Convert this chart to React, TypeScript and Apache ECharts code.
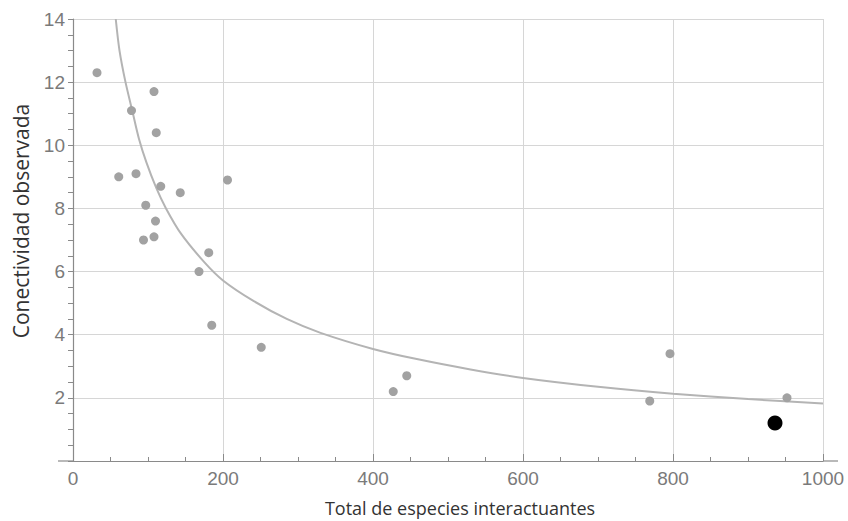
import React, { useEffect, useRef } from "react";
import * as echarts from "echarts";

const grayPoints: [number, number][] = [
  [32, 12.3], [108, 11.7], [78, 11.1], [111, 10.4], [61, 9.0], [84, 9.1],
  [117, 8.7], [143, 8.5], [206, 8.9], [97, 8.1], [110, 7.6], [94, 7.0],
  [108, 7.1], [181, 6.6], [168, 6.0], [185, 4.3], [251, 3.6], [427, 2.2],
  [445, 2.7], [769, 1.9], [796, 3.4], [952, 2.0],
];
const highlightPoint: [number, number][] = [[936, 1.2]];

const curveX = [57, 62, 70, 79, 88, 98, 111, 124, 144, 175, 200, 240, 285, 330, 400, 460, 530, 600, 700, 800, 900, 1000];
const curveY = [14.0, 13.0, 12.0, 11.1, 10.2, 9.45, 8.65, 8.0, 7.2, 6.3, 5.72, 5.08, 4.5, 4.06, 3.55, 3.22, 2.9, 2.63, 2.35, 2.13, 1.96, 1.82];

const xTitle = "Total de especies interactuantes";
const yTitle = "Conectividad observada";

export default function App() {
  const ref = useRef<HTMLDivElement>(null);
  useEffect(() => {
    if (!ref.current) return;
    const chart = echarts.init(ref.current, null, { renderer: "svg" });
    const axisColor = "#8a8a8a";
    const labelColor = "#7a7a7a";
    const gridColor = "#d6d6d6";
    chart.setOption({
      animation: false,
      backgroundColor: "#ffffff",
      grid: { left: 73, right: 25, top: 19, bottom: 60, containLabel: false },
      xAxis: {
        type: "value",
        min: 0,
        max: 1000,
        interval: 200,
        axisLine: { show: true, onZero: false, lineStyle: { color: axisColor, width: 1.2 } },
        axisTick: { show: true, inside: true, length: 7, lineStyle: { color: axisColor } },
        minorTick: { show: true, splitNumber: 4, length: 4, lineStyle: { color: axisColor } },
        splitLine: { show: true, lineStyle: { color: gridColor, width: 1 } },
        axisLabel: {
          color: labelColor,
          fontSize: 19,
          fontFamily: "Liberation Sans, Arial, sans-serif",
          margin: 8,
          formatter: (v: number) => String(v),
        },
      },
      yAxis: {
        type: "value",
        min: 0,
        max: 14,
        interval: 2,
        axisLine: { show: true, onZero: false, lineStyle: { color: axisColor, width: 1.2 } },
        axisTick: { show: true, inside: false, length: 5, lineStyle: { color: axisColor } },
        minorTick: { show: true, splitNumber: 4, length: 5, lineStyle: { color: axisColor } },
        splitLine: { show: true, lineStyle: { color: gridColor, width: 1 } },
        axisLabel: {
          color: labelColor,
          fontSize: 19,
          fontFamily: "Liberation Sans, Arial, sans-serif",
          margin: 8,
          showMinLabel: false,
          formatter: (v: number) => String(v),
        },
      },
      series: [
        {
          type: "line",
          data: curveX.map((x, i) => [x, curveY[i]]),
          smooth: 0.3,
          showSymbol: false,
          symbol: "none",
          lineStyle: { color: "#b4b4b4", width: 2 },
          z: 2,
          silent: true,
        },
        {
          type: "scatter",
          data: grayPoints,
          symbol: "circle",
          symbolSize: 9,
          itemStyle: { color: "#a2a2a2", opacity: 1 },
          z: 3,
        },
        {
          type: "scatter",
          data: highlightPoint,
          symbol: "circle",
          symbolSize: 15,
          itemStyle: { color: "#000000", opacity: 1 },
          z: 4,
        },
      ],
      graphic: [
        {
          type: "line",
          shape: { x1: 58, y1: 461, x2: 73, y2: 461 },
          style: { stroke: axisColor, lineWidth: 1.2 },
        },
        {
          type: "line",
          shape: { x1: 823, y1: 461, x2: 838, y2: 461 },
          style: { stroke: axisColor, lineWidth: 1.2 },
        },
        {
          type: "text",
          x: 460,
          y: 508,
          style: {
            text: xTitle,
            fill: "#333333",
            fontSize: 18,
            fontFamily: "Open Sans, Noto Sans, sans-serif",
            align: "center",
            verticalAlign: "middle",
          },
        },
        {
          type: "text",
          x: 21,
          y: 221,
          rotation: Math.PI / 2,
          style: {
            text: yTitle,
            fill: "#333333",
            fontSize: 21,
            fontFamily: "Open Sans, Noto Sans, sans-serif",
            align: "center",
            verticalAlign: "middle",
          },
        },
      ],
    });
    return () => chart.dispose();
  }, []);
  return (
    <div
      ref={ref}
      style={{ position: "fixed", left: 0, top: 0, width: 848, height: 521 }}
    />
  );
}
